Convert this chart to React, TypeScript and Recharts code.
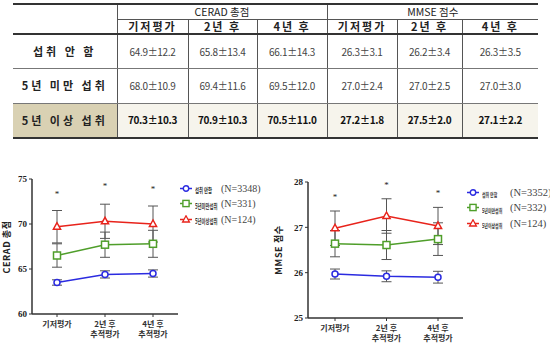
import React from "react"
import { LineChart, Line, XAxis, YAxis, ErrorBar, Legend } from "recharts"

// table
const groupHeaders = ["CERAD 총점", "MMSE 점수"]
const subHeaders = ["기저평가", "2년 후", "4년 후"]
const rowLabels = ["섭취 안 함", "5년 미만 섭취", "5년 이상 섭취"]
const ceradCells = [
  ["64.9±12.2", "65.8±13.4", "66.1±14.3"],
  ["68.0±10.9", "69.4±11.6", "69.5±12.0"],
  ["70.3±10.3", "70.9±10.3", "70.5±11.0"],
]
const mmseCells = [
  ["26.3±3.1", "26.2±3.4", "26.3±3.5"],
  ["27.0±2.4", "27.0±2.5", "27.0±3.0"],
  ["27.2±1.8", "27.5±2.0", "27.1±2.2"],
]

// charts
const timepoints = ["기저평가", "2년 후\n추적평가", "4년 후\n추적평가"]
const groupNames = ["섭취 안함", "5년미만섭취", "5년이상섭취"]
const ceradN = ["(N=3348)", "(N=331)", "(N=124)"]
const mmseN = ["(N=3352)", "(N=332)", "(N=124)"]

const ceradNone = [63.5, 64.4, 64.5]
const ceradNoneErr = [0.3, 0.4, 0.4]
const ceradUnder5 = [66.5, 67.7, 67.8]
const ceradUnder5Err = [1.3, 1.4, 1.5]
const ceradOver5 = [69.7, 70.3, 70.0]
const ceradOver5Err = [1.8, 1.9, 2.0]
const ceradStars = [73.6, 74.5, 74.1]
const ceradTicks = [60, 65, 70, 75]

const mmseNone = [25.97, 25.92, 25.9]
const mmseNoneErr = [0.11, 0.12, 0.13]
const mmseUnder5 = [26.64, 26.61, 26.74]
const mmseUnder5Err = [0.29, 0.32, 0.36]
const mmseOver5 = [26.98, 27.25, 27.03]
const mmseOver5Err = [0.38, 0.38, 0.41]
const mmseStars = [27.72, 27.98, 27.8]
const mmseTicks = [25, 26, 27, 28]

const BLUE = "#2b2be0"
const GREEN = "#4f9e2a"
const RED = "#e8231b"
const AXIS = "#333"
const KR = '"Noto Sans CJK KR", "Noto Sans", sans-serif'
const SERIF = '"Liberation Serif", "DejaVu Serif", serif'

function buildRows(none: number[], noneErr: number[], under: number[], underErr: number[], over: number[], overErr: number[], stars: number[]) {
  return timepoints.map((t, i) => ({
    t,
    none: none[i],
    noneErr: noneErr[i],
    under: under[i],
    underErr: underErr[i],
    over: over[i],
    overErr: overErr[i],
    star: stars[i],
  }))
}

const SquareDot = (color: string) => (p: any) => (
  <rect key={`sq-${p.index}`} x={p.cx - 3.5} y={p.cy - 3.5} width={7} height={7} fill="#fff" stroke={color} strokeWidth={1.5} />
)
const TriangleDot = (color: string) => (p: any) => (
  <polygon
    key={`tr-${p.index}`}
    points={`${p.cx},${p.cy - 4} ${p.cx - 3.6},${p.cy + 2.5} ${p.cx + 3.6},${p.cy + 2.5}`}
    fill="#fff"
    stroke={color}
    strokeWidth={1.5}
  />
)
const StarDot = (p: any) => (
  <text key={`st-${p.index}`} x={p.cx} y={p.cy + 5} textAnchor="middle" fontSize={9} fill="#222" fontFamily={SERIF}>
    *
  </text>
)

const TimeTick = (props: any) => {
  const { x, y, payload } = props
  const lines = String(payload.value).split("\n")
  return (
    <text x={x} y={y + 8} textAnchor="middle" fontSize={8} fontWeight="bold" fill="#333" fontFamily={KR}>
      {lines.map((l, i) => (
        <tspan key={i} x={x} dy={i === 0 ? 0 : 10}>
          {l}
        </tspan>
      ))}
    </text>
  )
}

function LegendIcon({ kind, color }: { kind: number; color: string }) {
  return (
    <svg width={12} height={9} style={{ display: "block", flex: "none" }}>
      <line x1={0} y1={4.5} x2={12} y2={4.5} stroke={color} strokeWidth={1.5} />
      {kind === 0 && <circle cx={6} cy={4.5} r={2.7} fill="#fff" stroke={color} strokeWidth={1.4} />}
      {kind === 1 && <rect x={2.9} y={1.4} width={6.2} height={6.2} fill="#fff" stroke={color} strokeWidth={1.4} />}
      {kind === 2 && <polygon points="6,0.8 2.6,7 9.4,7" fill="#fff" stroke={color} strokeWidth={1.3} />}
    </svg>
  )
}

function makeLegend(counts: string[], nameSize: number, nameWidth: number, squeeze: number, nSize: number) {
  const colors = [BLUE, GREEN, RED]
  return () => (
    <div style={{ display: "flex", flexDirection: "column", gap: 3.5 }}>
      {groupNames.map((name, i) => (
        <div key={name} style={{ display: "flex", alignItems: "center", height: 12 }}>
          <LegendIcon kind={i} color={colors[i]} />
          <div style={{ width: nameWidth, marginLeft: 3, flex: "none", overflow: "visible" }}>
            <span
              style={{
                display: "inline-block",
                fontFamily: KR,
                fontSize: nameSize,
                fontWeight: "bold",
                color: "#333",
                whiteSpace: "nowrap",
                transform: `scaleX(${squeeze})`,
                transformOrigin: "left center",
              }}
            >
              {name}
            </span>
          </div>
          <span style={{ fontFamily: SERIF, fontSize: nSize, color: "#444", whiteSpace: "nowrap" }}>{counts[i]}</span>
        </div>
      ))}
    </div>
  )
}

function ScoreChart(props: {
  rows: any[]
  domain: [number, number]
  ticks: number[]
  width: number
  margin: any
  xHeight: number
  padLeft: number
  padRight: number
  title: string
  titlePos: [number, number]
  legend: () => React.ReactElement
  legendPos: [number, number]
}) {
  const { rows, domain, ticks, width, margin, xHeight, padLeft, padRight, title, titlePos, legend, legendPos } = props
  return (
    <LineChart width={width} height={187} data={rows} margin={margin}>
      <XAxis
        dataKey="t"
        type="category"
        padding={{ left: padLeft, right: padRight }}
        height={xHeight}
        tick={TimeTick}
        tickSize={3}
        tickLine={{ stroke: AXIS }}
        axisLine={{ stroke: AXIS, strokeWidth: 1.5 }}
        interval={0}
      />
      <YAxis
        domain={domain}
        ticks={ticks}
        width={20}
        tickSize={3}
        tickMargin={2}
        tickLine={{ stroke: AXIS }}
        axisLine={{ stroke: AXIS, strokeWidth: 1.5 }}
        tick={{ fontSize: 9, fill: "#222", fontFamily: SERIF, fontWeight: "bold" }}
        label={{
          content: () => (
            <text
              x={titlePos[0]}
              y={titlePos[1]}
              transform={`rotate(-90 ${titlePos[0]} ${titlePos[1]})`}
              textAnchor="middle"
              dominantBaseline="central"
              fontSize={9}
              fontWeight="bold"
              fill="#222"
              letterSpacing={0.6}
              fontFamily={KR}
            >
              {title}
            </text>
          ),
        }}
      />
      <Legend
        content={legend}
        layout="horizontal"
        verticalAlign="middle"
        align="center"
        wrapperStyle={{ left: legendPos[0], top: legendPos[1], width: "auto" }}
      />
      <Line dataKey="none" stroke={BLUE} strokeWidth={1.5} dot={{ r: 3, fill: "#fff", stroke: BLUE, strokeWidth: 1.5 }} activeDot={false} isAnimationActive={false}>
        <ErrorBar dataKey="noneErr" width={5} stroke="#555" strokeWidth={1} />
      </Line>
      <Line dataKey="under" stroke={GREEN} strokeWidth={1.5} dot={SquareDot(GREEN)} activeDot={false} isAnimationActive={false}>
        <ErrorBar dataKey="underErr" width={5} stroke="#555" strokeWidth={1} />
      </Line>
      <Line dataKey="over" stroke={RED} strokeWidth={1.5} dot={TriangleDot(RED)} activeDot={false} isAnimationActive={false}>
        <ErrorBar dataKey="overErr" width={5} stroke="#555" strokeWidth={1} />
      </Line>
      <Line dataKey="star" stroke="none" dot={StarDot} activeDot={false} legendType="none" isAnimationActive={false} />
    </LineChart>
  )
}

const cellBase: React.CSSProperties = { padding: 0, textAlign: "center", verticalAlign: "middle", lineHeight: 1 }

export default function App() {
  const ceradRows = buildRows(ceradNone, ceradNoneErr, ceradUnder5, ceradUnder5Err, ceradOver5, ceradOver5Err, ceradStars)
  const mmseRows = buildRows(mmseNone, mmseNoneErr, mmseUnder5, mmseUnder5Err, mmseOver5, mmseOver5Err, mmseStars)
  const colWidths = [104, 71, 69, 70, 70, 65, 76]
  const thick = "2px solid #333"
  const thin = "1px solid #555"
  const rowLine = "1px solid #777"

  return (
    <div style={{ position: "absolute", left: 0, top: 0, width: 550, height: 347, background: "#fff", overflow: "hidden" }}>
      <table
        style={{
          position: "absolute",
          left: 13,
          top: 3,
          width: 525,
          borderCollapse: "collapse",
          tableLayout: "fixed",
          fontFamily: KR,
        }}
      >
        <colgroup>
          {colWidths.map((w, i) => (
            <col key={i} style={{ width: w }} />
          ))}
        </colgroup>
        <thead>
          <tr style={{ height: 15 }}>
            <th rowSpan={2} style={{ ...cellBase, borderTop: thick, borderBottom: thick, borderRight: thin }} />
            {groupHeaders.map((g, gi) => (
              <th
                key={g}
                colSpan={3}
                style={{ ...cellBase, borderTop: thick, borderBottom: thin, borderRight: gi === 0 ? thin : "none", fontSize: 10.5, fontWeight: "normal", color: "#222" }}
              >
                {g}
              </th>
            ))}
          </tr>
          <tr style={{ height: 15 }}>
            {[0, 1].map((gi) =>
              subHeaders.map((s, si) => (
                <th
                  key={`${gi}-${si}`}
                  style={{
                    ...cellBase,
                    borderBottom: thick,
                    borderRight: gi === 1 && si === 2 ? "none" : thin,
                    fontSize: 11,
                    fontWeight: "bold",
                    color: "#222",
                    letterSpacing: 2,
                  }}
                >
                  {s}
                </th>
              ))
            )}
          </tr>
        </thead>
        <tbody>
          {rowLabels.map((label, ri) => {
            const last = ri === rowLabels.length - 1
            const values = [...ceradCells[ri], ...mmseCells[ri]]
            return (
              <tr key={label} style={{ height: 34.5 }}>
                <td
                  style={{
                    ...cellBase,
                    borderBottom: last ? thick : rowLine,
                    borderRight: thin,
                    fontSize: 11,
                    fontWeight: "bold",
                    color: "#222",
                    letterSpacing: 3,
                    background: last ? "#d9d1b3" : "#fff",
                  }}
                >
                  {label}
                </td>
                {values.map((v, vi) => (
                  <td
                    key={vi}
                    style={{
                      ...cellBase,
                      borderBottom: last ? thick : rowLine,
                      borderRight: vi === 5 ? "none" : thin,
                      fontSize: 10,
                      fontWeight: last ? "bold" : "normal",
                      color: last ? "#111" : "#444",
                      letterSpacing: -0.3,
                      background: last ? "#f6f4ec" : "#fff",
                    }}
                  >
                    {v}
                  </td>
                ))}
              </tr>
            )
          })}
        </tbody>
      </table>

      <div style={{ position: "absolute", left: 0, top: 160 }}>
        <ScoreChart
          rows={ceradRows}
          domain={[60, 75]}
          ticks={ceradTicks}
          width={270}
          margin={{ top: 19, right: 92, bottom: 3, left: 12 }}
          xHeight={30}
          padLeft={25}
          padRight={25}
          title="CERAD 총점"
          titlePos={[6, 87]}
          legend={makeLegend(ceradN, 7, 26, 0.62, 10)}
          legendPos={[180, 22]}
        />
      </div>
      <div style={{ position: "absolute", left: 270, top: 160 }}>
        <ScoreChart
          rows={mmseRows}
          domain={[25, 28]}
          ticks={mmseTicks}
          width={280}
          margin={{ top: 22, right: 87, bottom: 3, left: 18 }}
          xHeight={26}
          padLeft={27}
          padRight={25}
          title="MMSE 점수"
          titlePos={[8, 90]}
          legend={makeLegend(mmseN, 6, 28, 0.65, 10.5)}
          legendPos={[197, 26]}
        />
      </div>
    </div>
  )
}
